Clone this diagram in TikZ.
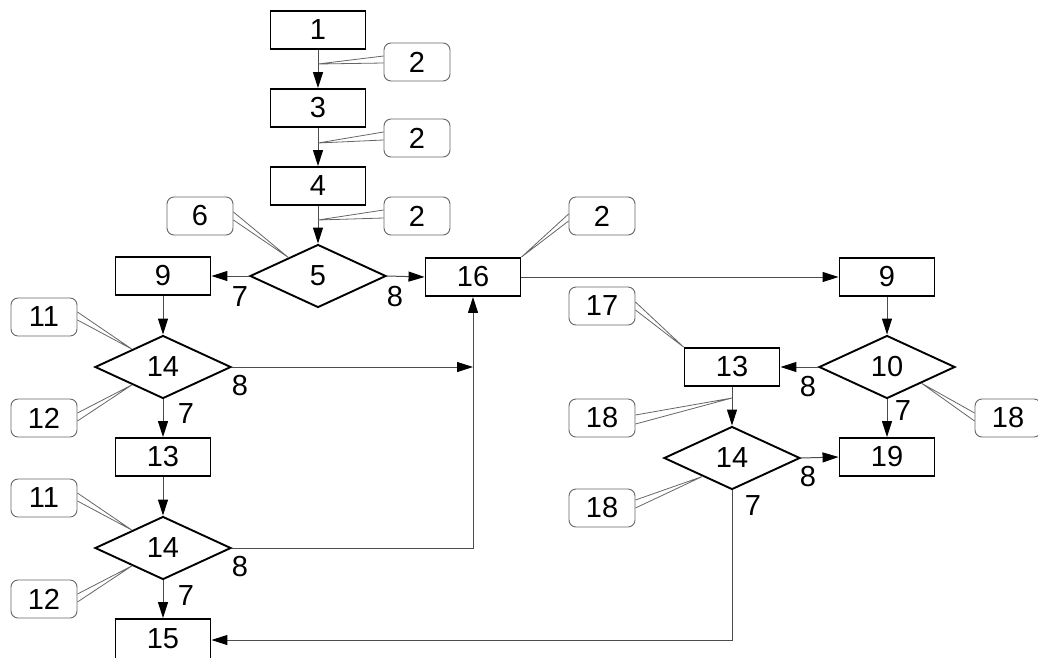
\documentclass[tikz,border=0pt]{standalone}
\usepackage{fontspec}
\setmainfont{Liberation Sans}
\usetikzlibrary{shapes.geometric,arrows.meta,calc}
\newcommand\lbl{\fontsize{29}{32}\selectfont}
\tikzset{
 box/.style={draw=black, line width=1.9pt, minimum width=95pt, minimum height=38pt, inner sep=0pt, font=\lbl},
 dia/.style={diamond, draw=black, line width=1.9pt, minimum width=136pt, minimum height=63pt, inner sep=0pt, font=\lbl},
 call/.style={draw=black!60, line width=0.9pt, rounded corners=7pt, minimum width=66pt, minimum height=38pt, inner sep=0pt, font=\lbl},
 ptr/.style={draw=black!60, line width=0.8pt},
 conn/.style={draw=black!70, line width=1pt, -{Triangle[length=16pt,width=10pt,color=black]}},
 lab/.style={font=\lbl, inner sep=0pt},
}
\begin{document}
\begin{tikzpicture}[x=1pt,y=-1pt]
\useasboundingbox (0,0) rectangle (1038,657);
% boxes
\node[box] (b1) at (318,30) {1};
\node[box] (b3) at (318,108) {3};
\node[box] (b4) at (318,186) {4};
\node[dia] (d5) at (318,276) {5};
\node[box] (b9l) at (163,276) {9};
\node[box] (b16) at (473,277) {16};
\node[box] (b9r) at (887,277) {9};
\node[dia] (d14a) at (163,367) {14};
\node[box] (b13l) at (163,457) {13};
\node[dia] (d14b) at (163,548) {14};
\node[box, minimum height=42pt] (b15) at (163,640) {\raisebox{2pt}{15}};
\node[dia] (d10) at (887,367) {10};
\node[box] (b13r) at (732,367) {13};
\node[box] (b19) at (887,457) {19};
\node[dia] (d14r) at (732,458) {14};
% connectors
\draw[conn] (b1) -- (b3);
\draw[conn] (b3) -- (b4);
\draw[conn] (b4) -- (d5);
\draw[conn] (d5.west) -- (b9l.east);
\draw[conn] (d5.east) -- (b16.west);
\draw[conn] (b16.east) -- (b9r.west);
\draw[conn] (b9l) -- (d14a);
\draw[conn] (d14a) -- (b13l);
\draw[conn] (b13l) -- (d14b);
\draw[conn] (d14b) -- (b15);
\coordinate (j1) at (b16.south |- d14a.east);
\draw[conn] (d14a.east) -- (j1);
\draw[conn] (d14b.east) -| (b16.south);
\draw[conn] (b9r) -- (d10);
\draw[conn] (d10.west) -- (b13r.east);
\draw[conn] (d10.south) -- (b19.north);
\draw[conn] (b13r) -- (d14r);
\draw[conn] (d14r.east) -- (b19.west);
\draw[conn] (d14r.south) |- (b15.east);
% branch labels
\node[lab] (l1) at (240,297) {7};
\node[lab] (l2) at (395,297) {8};
\node[lab] (l3) at (240,386) {8};
\node[lab] (l4) at (186,414) {7};
\node[lab] (l5) at (240,567) {8};
\node[lab] (l6) at (186,596) {7};
\node[lab] (l7) at (808,387) {8};
\node[lab] (l8) at (903,411) {7};
\node[lab] (l9) at (808,477) {8};
\node[lab] (l10) at (753,506) {7};
% callouts
\node[call] (c2a) at (417,62) {2};
\node[call] (c2b) at (417,138) {2};
\node[call] (c2c) at (417,216) {2};
\node[call] (c2d) at (602,216) {2};
\node[call] (c6) at (200,216) {6};
\node[call] (c11a) at (44,317) {11};
\node[call] (c12a) at (44,418) {12};
\node[call] (c11b) at (44,498) {11};
\node[call] (c12b) at (44,599) {12};
\node[call] (c17) at (602,306) {17};
\node[call] (c18a) at (602,418) {18};
\node[call] (c18b) at (1008,418) {18};
\node[call] (c18c) at (602,508) {18};
% callout pointers
\coordinate (t2a) at (318,64);
\coordinate (t2b) at (318,143);
\coordinate (t2c) at (318,220);
\coordinate (t18a) at (732,398);
\draw[ptr] (c2a.west |- 0,56) -- (t2a) -- (c2a.west |- 0,63);
\draw[ptr] (c2b.west |- 0,132) -- (t2b) -- (c2b.west |- 0,140);
\draw[ptr] (c2c.west |- 0,210) -- (t2c) -- (c2c.west |- 0,218);
\draw[ptr] (c2d.west |- 0,214) -- (b16.north east) -- (c2d.west |- 0,221);
\draw[ptr] (c6.east |- 0,212) -- ($(d5.west)!0.57!(d5.north)$) -- (c6.east |- 0,220);
\draw[ptr] (c11a.east |- 0,312) -- ($(d14a.west)!0.55!(d14a.north)$) -- (c11a.east |- 0,320);
\draw[ptr] (c12a.east |- 0,413) -- ($(d14a.west)!0.55!(d14a.south)$) -- (c12a.east |- 0,421);
\draw[ptr] (c11b.east |- 0,493) -- ($(d14b.west)!0.55!(d14b.north)$) -- (c11b.east |- 0,501);
\draw[ptr] (c12b.east |- 0,594) -- ($(d14b.west)!0.55!(d14b.south)$) -- (c12b.east |- 0,602);
\draw[ptr] (c17.east |- 0,302) -- (b13r.north west) -- (c17.east |- 0,310);
\draw[ptr] (c18a.east |- 0,415) -- (t18a) -- (c18a.east |- 0,424);
\draw[ptr] (c18b.west |- 0,413) -- ($(d10.south)!0.5!(d10.east)$) -- (c18b.west |- 0,421);
\draw[ptr] (c18c.east |- 0,500) -- ($(d14r.west)!0.57!(d14r.south)$) -- (c18c.east |- 0,508);
\end{tikzpicture}
\end{document}
